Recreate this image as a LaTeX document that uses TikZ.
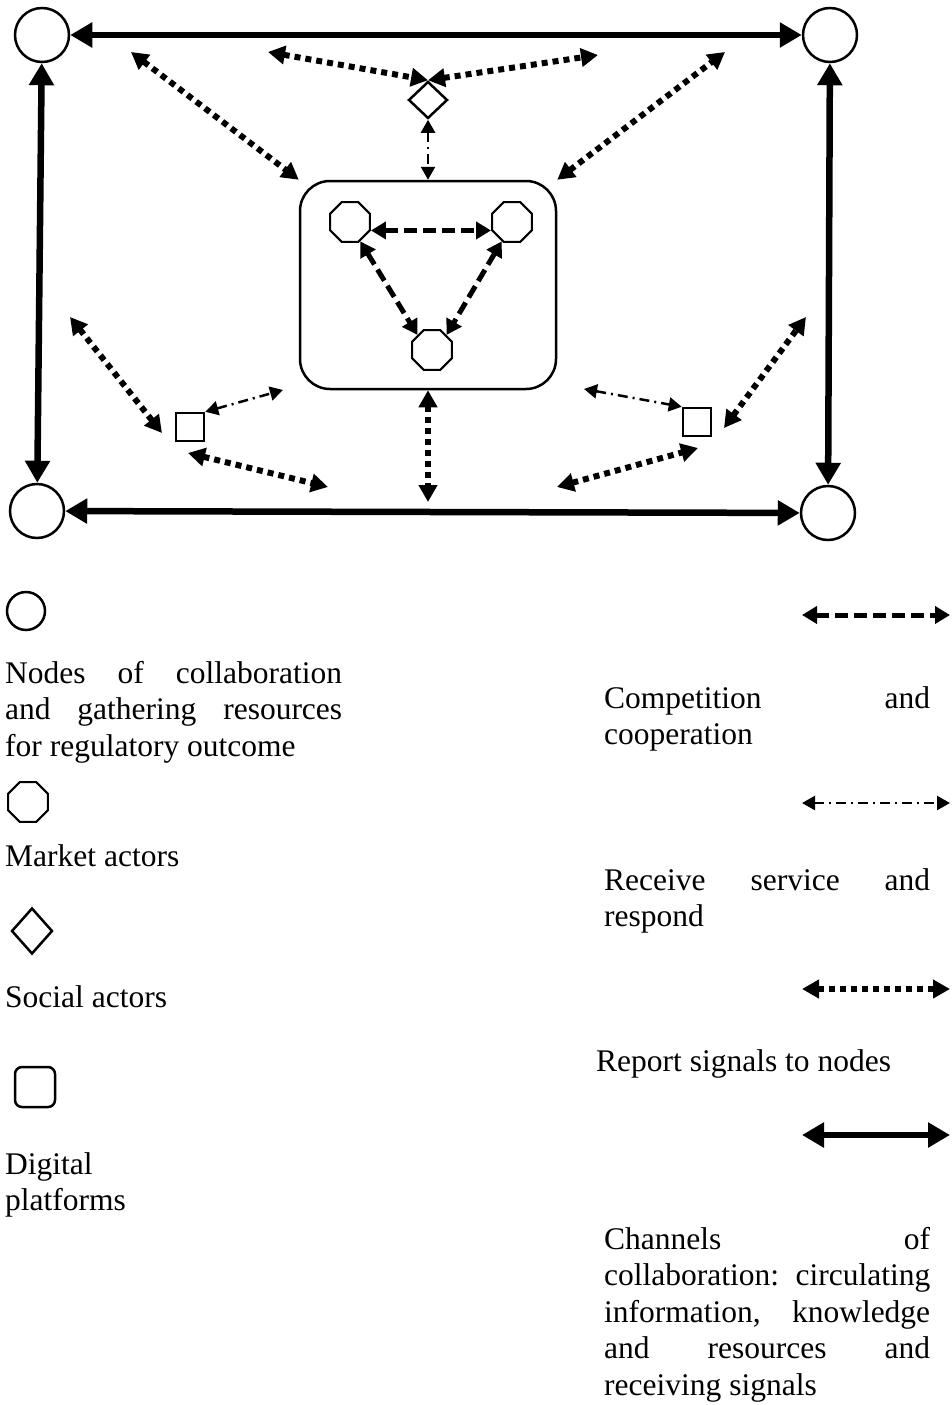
\documentclass[tikz,border=0pt]{standalone}
\usepackage{fontspec}
\setmainfont{Liberation Serif}
\usetikzlibrary{arrows.meta,shapes.geometric}

\begin{document}
\begin{tikzpicture}[x=1pt,y=-1pt,
bignode/.style={circle,draw,line width=2.5pt,minimum size=54pt,inner sep=0pt},
market/.style={regular polygon,regular polygon sides=8,draw,line width=2.2pt,minimum size=43pt,inner sep=0pt},
social/.style={diamond,draw,line width=2.5pt,minimum width=39pt,minimum height=37pt,inner sep=0pt},
platform/.style={rectangle,draw,line width=2.5pt,minimum size=28pt,inner sep=0pt},
chan/.style={line width=6.5pt,{Triangle[length=22pt,width=24pt]}-{Triangle[length=22pt,width=24pt]}},
report/.style={line width=6pt,dash pattern=on 6pt off 5pt,{Triangle[length=17pt,width=18pt]}-{Triangle[length=17pt,width=18pt]}},
serve/.style={line width=2.5pt,dash pattern=on 10pt off 5pt on 2pt off 5pt,{Triangle[length=13pt,width=14pt]}-{Triangle[length=13pt,width=14pt]}},
compete/.style={line width=5pt,dash pattern=on 13pt off 6pt,{Triangle[length=15pt,width=17pt]}-{Triangle[length=15pt,width=17pt]}},
legtext/.style={inner sep=0pt,anchor=base west,font=\fontsize{31.5}{36.5}\selectfont,align=justify}]
\useasboundingbox (0,0) rectangle (952,1405);
% nodes of collaboration
\node[bignode] (tl) at (42,35) {};
\node[bignode] (tr) at (830,35) {};
\node[bignode] (bl) at (37,511) {};
\node[bignode] (br) at (828,513) {};
\draw[chan] (tl) -- (tr);
\draw[chan] (tr) -- (br);
\draw[chan] (bl) -- (br);
\draw[chan] (tl) -- (bl);
% market actors
\node[draw,line width=2.5pt,rounded corners=30pt,minimum width=256pt,minimum height=208pt] (hub) at (428,285) {};
\node[market] (mA) at (350,222) {};
\node[market] (mB) at (512,222) {};
\node[market] (mC) at (432,350) {};
\draw[compete] (mA.-22) -- (mB.202);
\draw[compete] (mA.-62) -- (mC.134);
\draw[compete] (mB.242) -- (mC.46);
% social actors
\node[social] (soc) at (428,100) {};
\coordinate (dl) at (268,52);
\coordinate (dr) at (598,55);
\draw[report] (dl) -- (soc.north);
\draw[report] (soc.north) -- (dr);
\draw[serve] (soc.south) -- (hub.north);
\coordinate (ul) at (131,52);
\coordinate (ur) at (725,52);
\draw[report] (ul) -- (hub.north west);
\draw[report] (hub.north east) -- (ur);
\coordinate (bm) at (428,502);
\draw[report] (hub.south) -- (bm);
% digital platforms
\node[platform] (pA) at (190,427) {};
\node[platform] (pB) at (697,422) {};
\coordinate (wl) at (70,317);
\coordinate (wl2) at (162,433);
\coordinate (sl) at (283,390);
\coordinate (ll) at (188,453);
\coordinate (ll2) at (328,487);
\draw[report] (wl) -- (wl2);
\draw[serve] (pA.north east) -- (sl);
\draw[report] (ll) -- (ll2);
\coordinate (sr) at (584,389);
\coordinate (wr) at (806,317);
\coordinate (wr2) at (724,428);
\coordinate (lr) at (557,487);
\coordinate (lr2) at (698,448);
\draw[serve] (sr) -- (pB.north west);
\draw[report] (wr2) -- (wr);
\draw[report] (lr) -- (lr2);
% legend, left
\node[bignode,minimum size=38pt] (kn) at (26,611) {};
\node[legtext,text width=337pt] (tn) at (5,683) {Nodes of collaboration\linebreak and gathering resources\linebreak for regulatory outcome};
\node[market,minimum size=43pt] (km) at (28,802) {};
\node[legtext] (tm) at (5,866) {Market actors};
\node[social,minimum width=41pt,minimum height=46pt] (ks) at (32,931) {};
\node[legtext] (ts) at (5,1007) {Social actors};
\node[platform,minimum size=40pt,rounded corners=7pt] (kp) at (35,1087) {};
\node[legtext,text width=200pt,align=left] (tp) at (5,1174) {Digital\\platforms};
% legend, right
\coordinate (c1a) at (802,615);
\coordinate (c1b) at (950,615);
\draw[compete] (c1a) -- (c1b);
\node[legtext,text width=326pt] (tc) at (604,708) {Competition and\linebreak cooperation};
\coordinate (c2a) at (802,803);
\coordinate (c2b) at (950,803);
\draw[serve] (c2a) -- (c2b);
\node[legtext,text width=326pt] (tr2) at (604,890) {Receive service and\linebreak respond};
\coordinate (c3a) at (802,989);
\coordinate (c3b) at (950,989);
\draw[report] (c3a) -- (c3b);
\node[legtext] (tr3) at (596,1071) {Report signals to nodes};
\coordinate (c4a) at (802,1135);
\coordinate (c4b) at (950,1135);
\draw[chan] (c4a) -- (c4b);
\node[legtext,text width=326pt] (tch) at (604,1249) {Channels of\linebreak collaboration: circulating\linebreak information, knowledge\linebreak and resources and\linebreak receiving signals};
\end{tikzpicture}
\end{document}
